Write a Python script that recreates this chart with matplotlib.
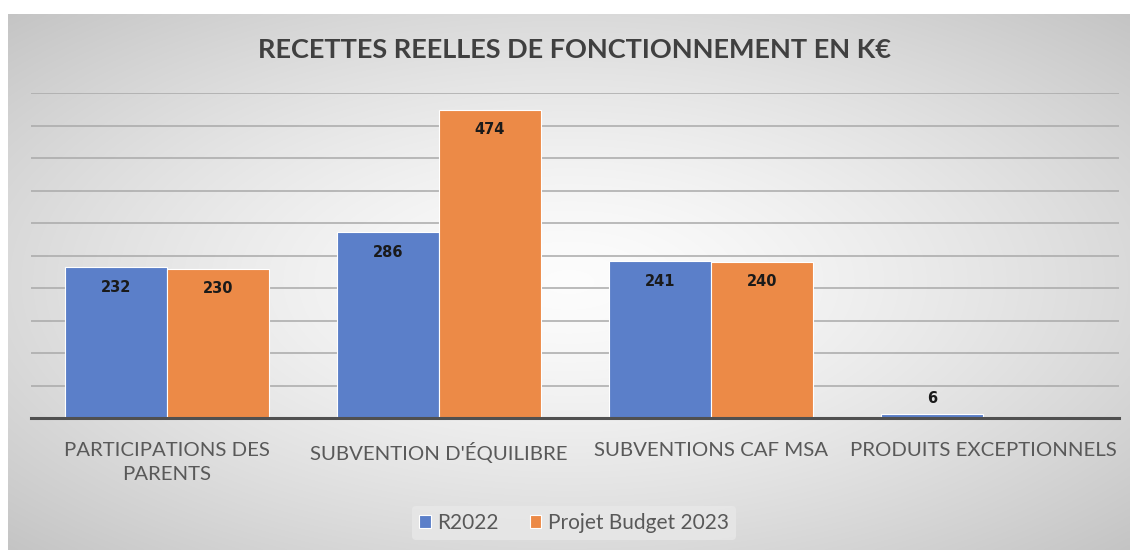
import numpy as np
import matplotlib
matplotlib.use("Agg")
import matplotlib.pyplot as plt

categories = ["PARTICIPATIONS DES\nPARENTS", "SUBVENTION D'ÉQUILIBRE",
              "SUBVENTIONS CAF MSA", "PRODUITS EXCEPTIONNELS"]
r2022 = [232, 286, 241, 6]
budget2023 = [230, 474, 240, 0]
series_names = ["R2022", "Projet Budget 2023"]
title = "RECETTES REELLES DE FONCTIONNEMENT EN K€"

W, H = 1130, 550
fig = plt.figure(figsize=(W / 100, H / 100), dpi=100)
fig.patch.set_facecolor("white")

# radial gradient background
bg = fig.add_axes([8 / W, 0, (W - 8) / W, (H - 14) / H])
yy, xx = np.mgrid[-1:1:300j, -1:1:600j]
r = np.sqrt(xx ** 2 + yy ** 2) / np.sqrt(2)
val = 0.99 - 0.22 * np.clip(r, 0, 1) ** 1.4
bg.imshow(np.dstack([val, val, val]), aspect="auto", extent=[0, 1, 0, 1], interpolation="bilinear")
bg.set_axis_off()

ax = fig.add_axes([31 / W, 132 / H, 1088 / W, 325 / H])
ax.patch.set_alpha(0)
x = np.arange(len(categories))
bw = 0.372
blue = "#5b7fc9"
orange = "#ec8a47"
b1 = ax.bar(x - 0.1875, r2022, bw, color=blue, edgecolor="white", linewidth=0.8, label=series_names[0], zorder=3)
b2 = ax.bar(x + 0.1875, budget2023, bw, color=orange, edgecolor="white", linewidth=0.8, label=series_names[1], zorder=3)

ax.set_ylim(0, 500)
ax.set_xlim(-0.5, 3.5)
ax.set_yticks(np.arange(50, 501, 50))
ax.yaxis.grid(True, color="#a9a9a9", linewidth=1.1, zorder=0)
ax.tick_params(axis="y", left=False, labelleft=False)
ax.tick_params(axis="x", length=0, pad=17)
for s in ["top", "right", "left"]:
    ax.spines[s].set_visible(False)
ax.spines["bottom"].set_color("#505050")
ax.spines["bottom"].set_linewidth(2.2)
ax.spines["bottom"].set_zorder(4)
ax.set_xticks(x)
ax.set_xticklabels(categories, fontsize=14.7, color="#595959", family="Lato", linespacing=1.55)

for bars, vals in ((b1, r2022), (b2, budget2023)):
    for rect, v in zip(bars, vals):
        if v == 0:
            continue
        cx = rect.get_x() + rect.get_width() / 2
        if v < 40:
            ax.annotate(str(v), (cx, v), xytext=(0, 6), textcoords="offset points",
                        ha="center", va="bottom", fontsize=10.5, fontweight="bold", color="#1a1a1a", zorder=5)
        else:
            ax.annotate(str(v), (cx, v), xytext=(0, -9), textcoords="offset points",
                        ha="center", va="top", fontsize=10.5, fontweight="bold", color="#1a1a1a", zorder=5)

fig.text(575 / W, 1 - 50 / H, title, ha="center", va="center", fontsize=19.5,
         fontweight="bold", color="#404040", family="Lato")

leg = fig.legend(handles=[b1, b2], labels=series_names, loc="center", bbox_to_anchor=(574 / W, 1 - 523 / H),
                 ncol=2, frameon=True, prop={"family": "Lato", "size": 15},
                 handlelength=0.55, handleheight=0.55, handletextpad=0.3, columnspacing=1.5,
                 borderpad=0.35)
leg.get_frame().set_facecolor("#e8e8e8")
leg.get_frame().set_edgecolor("none")
leg.get_frame().set_alpha(0.8)
for t in leg.get_texts():
    t.set_color("#595959")

fig.savefig("out.png", dpi=100)
